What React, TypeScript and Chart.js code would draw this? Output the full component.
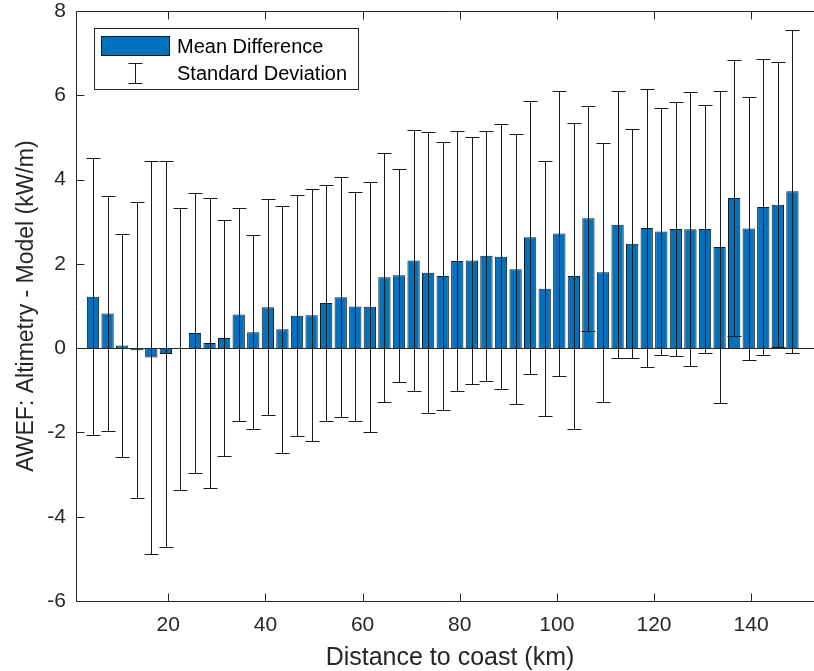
import React, { useEffect, useRef } from "react";
import { Chart, registerables } from "chart.js";

Chart.register(...registerables);

const distanceKm = [
  4.5, 7.5, 10.5, 13.5, 16.5, 19.5, 22.5, 25.5, 28.5, 31.5, 34.5, 37.5, 40.5,
  43.5, 46.5, 49.5, 52.5, 55.5, 58.5, 61.5, 64.5, 67.5, 70.5, 73.5, 76.5, 79.5,
  82.5, 85.5, 88.5, 91.5, 94.5, 97.5, 100.5, 103.5, 106.5, 109.5, 112.5, 115.5,
  118.5, 121.5, 124.5, 127.5, 130.5, 133.5, 136.5, 139.5, 142.5, 145.5, 148.5,
];

const meanDiff = [
  1.22, 0.82, 0.06, -0.05, -0.22, -0.14, -0.02, 0.36, 0.12, 0.24,
  0.8, 0.38, 0.97, 0.45, 0.77, 0.78, 1.07, 1.21, 0.99, 0.98,
  1.68, 1.73, 2.08, 1.79, 1.71, 2.07, 2.08, 2.19, 2.17, 1.87,
  2.63, 1.41, 2.72, 1.71, 3.08, 1.8, 2.93, 2.48, 2.85, 2.77,
  2.83, 2.82, 2.83, 2.4, 3.56, 2.84, 3.35, 3.4, 3.72,
];

const stdDev = [
  3.29, 2.78, 2.64, 3.51, 4.66, 4.57, 3.34, 3.33, 3.45, 2.81,
  2.52, 2.31, 2.56, 2.93, 2.86, 2.99, 2.81, 2.85, 2.72, 2.97,
  2.96, 2.53, 3.09, 3.34, 3.18, 3.09, 2.94, 2.97, 3.14, 3.2,
  3.24, 3.02, 3.37, 3.63, 2.67, 3.07, 3.16, 2.72, 3.3, 2.93,
  3.01, 3.25, 2.94, 3.7, 3.27, 3.11, 3.51, 3.38, 3.84,
];

const xTickValues = [20, 40, 60, 80, 100, 120, 140];
const yTickValues = [-6, -4, -2, 0, 2, 4, 6, 8];

const seriesLabels = ["Mean Difference", "Standard Deviation"];

const FONT = "'Liberation Sans', Arial, Helvetica, sans-serif";
const TEXT = "#262626";
const BLUE = "#0072BD";

const matlabDecor = {
  id: "matlabDecor",
  afterDatasetsDraw(chart: any) {
    const { ctx, chartArea, scales } = chart;
    const x = scales.x;
    const y = scales.y;
    ctx.save();
    ctx.lineWidth = 1;
    // baseline
    ctx.strokeStyle = "#262626";
    const y0 = Math.round(y.getPixelForValue(0)) + 0.5;
    ctx.beginPath();
    ctx.moveTo(chartArea.left, y0);
    ctx.lineTo(chartArea.right, y0);
    ctx.stroke();
    // error bars
    ctx.strokeStyle = "#1a1a1a";
    const cap = 7;
    distanceKm.forEach((d, i) => {
      const px = Math.round(x.getPixelForValue(d)) + 0.5;
      const top = Math.round(y.getPixelForValue(meanDiff[i] + stdDev[i])) + 0.5;
      const bot = Math.round(y.getPixelForValue(meanDiff[i] - stdDev[i])) + 0.5;
      ctx.beginPath();
      ctx.moveTo(px, top);
      ctx.lineTo(px, bot);
      ctx.moveTo(px - cap, top);
      ctx.lineTo(px + cap, top);
      ctx.moveTo(px - cap, bot);
      ctx.lineTo(px + cap, bot);
      ctx.stroke();
    });
    ctx.restore();
  },
  afterDraw(chart: any) {
    const { ctx, chartArea, scales } = chart;
    const x = scales.x;
    const y = scales.y;
    const L = chartArea.left + 0.5;
    const T = chartArea.top + 0.5;
    const B = chartArea.bottom + 0.5;
    const R = chartArea.right;
    ctx.save();
    ctx.strokeStyle = "#262626";
    ctx.lineWidth = 1;
    ctx.beginPath();
    ctx.moveTo(L, B);
    ctx.lineTo(R, B);
    ctx.moveTo(L, T);
    ctx.lineTo(R, T);
    ctx.moveTo(L, T);
    ctx.lineTo(L, B);
    const tl = 8;
    xTickValues.forEach((v) => {
      const px = Math.round(x.getPixelForValue(v)) + 0.5;
      ctx.moveTo(px, B);
      ctx.lineTo(px, B - tl);
      ctx.moveTo(px, T);
      ctx.lineTo(px, T + tl);
    });
    yTickValues.forEach((v) => {
      const py = Math.round(y.getPixelForValue(v)) + 0.5;
      ctx.moveTo(L, py);
      ctx.lineTo(L + tl, py);
    });
    ctx.stroke();

    // legend
    const lx = 94.5, ly = 28.5, lw = 264, lh = 61;
    ctx.fillStyle = "#ffffff";
    ctx.fillRect(lx, ly, lw, lh);
    ctx.strokeStyle = "#262626";
    ctx.strokeRect(lx, ly, lw, lh);
    ctx.fillStyle = BLUE;
    ctx.fillRect(101, 36, 69, 20);
    ctx.strokeStyle = "#1a1a1a";
    ctx.strokeRect(101.5, 36.5, 68, 19);
    ctx.beginPath();
    ctx.moveTo(135.5, 63.5);
    ctx.lineTo(135.5, 83.5);
    ctx.moveTo(128.5, 63.5);
    ctx.lineTo(142.5, 63.5);
    ctx.moveTo(128.5, 83.5);
    ctx.lineTo(142.5, 83.5);
    ctx.stroke();
    ctx.fillStyle = "#000000";
    ctx.font = `20px ${FONT}`;
    ctx.textBaseline = "middle";
    ctx.textAlign = "left";
    ctx.fillText(seriesLabels[0], 177, 47);
    ctx.fillText(seriesLabels[1], 177, 74);
    ctx.restore();
  },
};

export default function App() {
  const ref = useRef<HTMLCanvasElement>(null);
  useEffect(() => {
    if (!ref.current) return;
    const chart = new Chart(ref.current, {
      type: "bar",
      data: {
        datasets: [
          {
            label: seriesLabels[0],
            data: distanceKm.map((d, i) => ({ x: d, y: meanDiff[i] })),
            backgroundColor: BLUE,
            borderColor: "#1a1a1a",
            borderWidth: 1,
            barPercentage: 0.845,
            categoryPercentage: 1,
          },
        ],
      },
      options: {
        animation: false,
        responsive: false,
        devicePixelRatio: 1,
        layout: { padding: { left: 0, top: 11, right: 16, bottom: 0 } },
        plugins: { legend: { display: false }, tooltip: { enabled: false } },
        scales: {
          x: {
            type: "linear",
            min: 1,
            max: 155,
            offset: false,
            grid: { display: false, drawTicks: false },
            border: { display: false },
            afterBuildTicks: (s: any) => {
              s.ticks = xTickValues.map((v) => ({ value: v }));
            },
            afterFit: (s: any) => {
              s.height = 70;
              s.paddingLeft = 0;
              s.paddingRight = 0;
            },
            ticks: {
              autoSkip: false,
              maxRotation: 0,
              padding: 12,
              color: TEXT,
              font: { family: FONT, size: 21 },
            },
            title: {
              display: true,
              text: "Distance to coast (km)",
              color: TEXT,
              font: { family: FONT, size: 25, lineHeight: 1 },
              padding: { top: 0, bottom: 0 },
            },
          },
          y: {
            type: "linear",
            min: -6,
            max: 8,
            grid: { display: false, drawTicks: false },
            border: { display: false },
            afterBuildTicks: (s: any) => {
              s.ticks = yTickValues.map((v) => ({ value: v }));
            },
            afterFit: (s: any) => {
              s.width = 76;
              s.paddingTop = 0;
              s.paddingBottom = 0;
            },
            ticks: {
              padding: 10,
              color: TEXT,
              font: { family: FONT, size: 21, lineHeight: 1 },
            },
            title: {
              display: true,
              text: "AWEF: Altimetry - Model (kW/m)",
              color: TEXT,
              font: { family: FONT, size: 23, lineHeight: 1.2 },
              padding: { top: 13, bottom: 0 },
            },
          },
        },
      },
      plugins: [matlabDecor],
    } as any);
    return () => chart.destroy();
  }, []);
  return (
    <div
      style={{
        position: "absolute",
        left: 0,
        top: 0,
        width: 814,
        height: 671,
        overflow: "hidden",
        background: "#fff",
      }}
    >
      <canvas ref={ref} width={840} height={671} style={{ display: "block", width: 840, height: 671 }} />
    </div>
  );
}
